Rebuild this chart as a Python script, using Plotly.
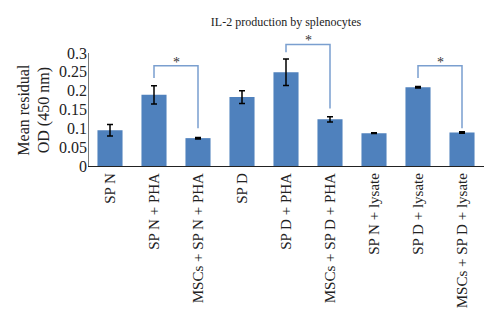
import plotly.graph_objects as go

categories = ["SP N", "SP N + PHA", "MSCs + SP N + PHA", "SP D", "SP D + PHA",
              "MSCs + SP D + PHA", "SP N + lysate", "SP D + lysate", "MSCs + SP D + lysate"]
values = [0.095, 0.189, 0.074, 0.183, 0.249, 0.124, 0.087, 0.209, 0.089]
errors = [0.015, 0.024, 0.002, 0.017, 0.035, 0.007, 0.001, 0.002, 0.002]
y_ticks = [0, 0.05, 0.1, 0.15, 0.2, 0.25, 0.3]
y_tick_text = ["0", "0.05", "0.1", "0.15", "0.2", "0.25", "0.3"]

# significance brackets: (left idx, right idx, left leg bottom, top, right leg bottom)
brackets = [(1, 2, 0.234, 0.266, 0.100),
            (4, 5, 0.302, 0.323, 0.153),
            (7, 8, 0.234, 0.266, 0.100)]

BAR = "#4F81BD"
BRK = "#7A9FCF"
FONT = "Liberation Serif"

fig = go.Figure(go.Bar(
    x=list(range(len(categories))), y=values,
    marker=dict(color=BAR, line=dict(width=0)),
    error_y=dict(type="data", array=errors, color="black", thickness=1.5, width=3),
    width=0.57,
))

shapes = []
annotations = []
for a, b, lb, top, rb in brackets:
    shapes.append(dict(type="path", xref="x", yref="y",
                       path=f"M {a},{lb} L {a},{top} L {b},{top} L {b},{rb}",
                       line=dict(color=BRK, width=1.5)))
    annotations.append(dict(x=(a + b) / 2, y=top, xref="x", yref="y", text="*",
                            showarrow=False, yanchor="bottom", yshift=-6,
                            font=dict(family=FONT, size=14, color="#333")))

# y axis line only from 0 to 0.3
shapes.append(dict(type="line", xref="x", yref="y", x0=-0.5, x1=-0.5, y0=0, y1=0.3,
                   line=dict(color="#222", width=1.2)))

annotations.append(dict(x=-0.136, y=0.15, xref="paper", yref="y", xanchor="center",
                        yanchor="middle",
                        text="Mean residual<br>OD (450 nm)", textangle=-90, showarrow=False,
                        font=dict(family=FONT, size=16, color="#222")))

fig.update_layout(
    width=500, height=328,
    margin=dict(l=88, r=16, t=38, b=162),
    paper_bgcolor="white", plot_bgcolor="white",
    showlegend=False,
    title=dict(text="IL-2 production by splenocytes", x=0.572, xanchor="center",
               y=0.935, yanchor="middle",
               font=dict(family=FONT, size=12, color="#222")),
    xaxis=dict(range=[-0.5, len(categories) - 0.5], tickvals=list(range(len(categories))),
               ticktext=categories, tickangle=-90, showline=True, linecolor="#222",
               linewidth=1.2, ticks="", showgrid=False, zeroline=False,
               tickfont=dict(family=FONT, size=15, color="#222")),
    yaxis=dict(range=[0, 0.34], tickvals=y_ticks, ticktext=y_tick_text, showline=False,
               ticks="", showgrid=False, zeroline=False,
               tickfont=dict(family=FONT, size=16, color="#222")),
    shapes=shapes, annotations=annotations,
    bargap=0.43,
)

fig.write_html("out.html")
